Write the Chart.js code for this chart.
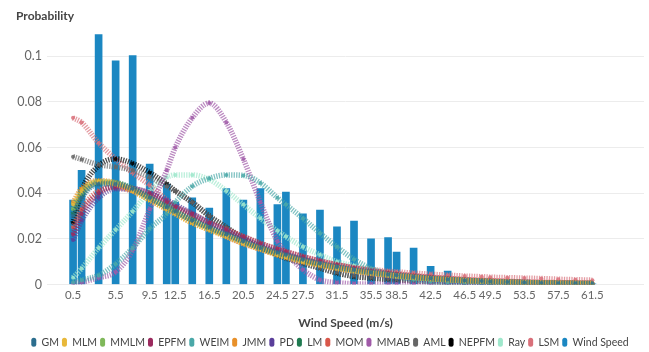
<!DOCTYPE html>
<html>
<head>
<meta charset="utf-8">
<script src="https://cdn.jsdelivr.net/npm/chart.js@4/dist/chart.umd.min.js"></script>
<style>
  html, body { margin: 0; padding: 0; background: #ffffff; }
  #wrap { width: 649px; height: 352px; position: relative; }
</style>
</head>
<body>
<div id="wrap"><canvas id="chart"></canvas></div>
<script>
// Wind speed bins (m/s)
const speeds = [0.5,1.5,3.5,5.5,7.5,9.5,11.5,12.5,14.5,16.5,18.5,20.5,22.5,24.5,25.5,27.5,29.5,31.5,33.5,35.5,37.5,38.5,40.5,42.5,44.5,46.5,48.5,49.5,51.5,53.5,55.5,57.5,59.5,61.5];

// Observed wind speed frequencies
const windSpeed = [0.037,0.050,0.1095,0.098,0.1003,0.0527,0.044,0.036,0.038,0.0335,0.042,0.037,0.042,0.035,0.0405,0.031,0.0326,0.0253,0.0278,0.020,0.0205,0.0142,0.016,0.008,0.0059,0.0025,0.0015,0.0012,0.001,0.0008,0.0006,0.0005,0.0004,0.0003];

// Fitted probability density curves
const gm    = [0.030,0.038,0.044,0.044,0.042,0.038,0.034,0.032,0.028,0.025,0.022,0.019,0.016,0.014,0.013,0.011,0.0092,0.0077,0.0064,0.0053,0.0044,0.004,0.0033,0.0027,0.0022,0.0018,0.0015,0.0013,0.0011,0.0009,0.0007,0.0006,0.0005,0.0004];
const mlm   = [0.035,0.041,0.045,0.044,0.041,0.037,0.033,0.031,0.027,0.024,0.021,0.018,0.0155,0.013,0.012,0.010,0.0085,0.0071,0.0059,0.0049,0.0041,0.0037,0.0031,0.0025,0.0021,0.0017,0.0014,0.0013,0.001,0.0008,0.0007,0.0006,0.0005,0.0004];
const mmlm  = [0.033,0.040,0.045,0.0445,0.042,0.038,0.034,0.032,0.028,0.0245,0.0215,0.0185,0.016,0.0135,0.0125,0.0105,0.0089,0.0075,0.0062,0.0052,0.0043,0.0039,0.0032,0.0026,0.0022,0.0018,0.0015,0.0013,0.0011,0.0009,0.0007,0.0006,0.0005,0.0004];
const epfm  = [0.022,0.031,0.040,0.043,0.042,0.040,0.036,0.034,0.031,0.027,0.024,0.021,0.018,0.0155,0.0145,0.0122,0.0103,0.0086,0.0072,0.006,0.005,0.0045,0.0037,0.003,0.0025,0.002,0.0016,0.0015,0.0012,0.001,0.0008,0.0007,0.0006,0.0005];
const weim  = [0.001,0.002,0.004,0.009,0.016,0.0245,0.031,0.036,0.043,0.0465,0.048,0.0478,0.0445,0.038,0.035,0.029,0.0225,0.0165,0.011,0.007,0.0045,0.0035,0.0022,0.0013,0.0008,0.0005,0.0003,0.0003,0.0002,0.0002,0.0001,0.0001,0.0001,0.0001];
const jmm   = [0.036,0.042,0.0455,0.0445,0.041,0.037,0.033,0.031,0.027,0.024,0.021,0.018,0.0155,0.013,0.012,0.0101,0.0085,0.0071,0.0059,0.0049,0.0041,0.0037,0.0031,0.0025,0.0021,0.0017,0.0014,0.0013,0.001,0.0008,0.0007,0.0006,0.0005,0.0004];
const pd    = [0.0195,0.028,0.038,0.042,0.042,0.040,0.037,0.035,0.031,0.027,0.0235,0.020,0.017,0.0145,0.0133,0.011,0.009,0.0073,0.0059,0.0047,0.0037,0.0033,0.0026,0.002,0.0016,0.0012,0.0009,0.0008,0.0006,0.0005,0.0004,0.0003,0.0002,0.0002];
const lm    = [0.031,0.039,0.0445,0.0445,0.042,0.038,0.034,0.032,0.0285,0.025,0.022,0.019,0.0163,0.014,0.0128,0.0108,0.0091,0.0076,0.0064,0.0053,0.0044,0.004,0.0033,0.0027,0.0022,0.0018,0.0015,0.0013,0.0011,0.0009,0.0007,0.0006,0.0005,0.0004];
const mom   = [0.025,0.033,0.041,0.0425,0.041,0.039,0.036,0.034,0.030,0.027,0.024,0.021,0.018,0.0155,0.0143,0.0122,0.0103,0.0087,0.0073,0.0061,0.0051,0.0047,0.0039,0.0032,0.0027,0.0022,0.0018,0.0017,0.0014,0.0011,0.0009,0.0008,0.0007,0.0006];
const mmab  = [0.0005,0.001,0.003,0.0055,0.015,0.033,0.050,0.060,0.073,0.0795,0.071,0.055,0.036,0.019,0.014,0.0065,0.002,0.0008,0.0003,0.0002,0.0001,0.0001,0.0001,0.0001,0.0001,0.0001,0.0001,0.0001,0.0001,0.0001,0.0001,0.0001,0.0001,0.0001];
const aml   = [0.056,0.0548,0.0525,0.0515,0.050,0.047,0.043,0.041,0.036,0.030,0.025,0.0205,0.0165,0.013,0.0116,0.0093,0.0072,0.0053,0.0038,0.003,0.0024,0.0021,0.0017,0.0013,0.001,0.0008,0.0006,0.0005,0.0004,0.0003,0.0003,0.0002,0.0002,0.0001];
const nepfm = [0.027,0.041,0.052,0.055,0.053,0.049,0.044,0.041,0.036,0.030,0.025,0.020,0.016,0.013,0.0116,0.0093,0.0072,0.005,0.0035,0.0028,0.0022,0.002,0.0016,0.0012,0.0009,0.0007,0.0005,0.0005,0.0004,0.0003,0.0002,0.0002,0.0001,0.0001];
const ray   = [0.003,0.007,0.016,0.024,0.032,0.041,0.047,0.048,0.048,0.046,0.041,0.035,0.029,0.0235,0.021,0.0165,0.013,0.010,0.0082,0.0065,0.005,0.0045,0.0035,0.0027,0.002,0.0015,0.0012,0.001,0.0008,0.0006,0.0005,0.0004,0.0003,0.0002];
const lsm   = [0.073,0.071,0.062,0.055,0.049,0.0435,0.037,0.034,0.029,0.025,0.021,0.018,0.0155,0.0135,0.0125,0.011,0.0095,0.0085,0.0075,0.0066,0.0058,0.0055,0.005,0.0045,0.0041,0.0037,0.0034,0.0032,0.003,0.0028,0.0026,0.0023,0.0021,0.0019];

const seriesNames  = ['GM','MLM','MMLM','EPFM','WEIM','JMM','PD','LM','MOM','MMAB','AML','NEPFM','Ray','LSM'];
const seriesValues = [gm, mlm, mmlm, epfm, weim, jmm, pd, lm, mom, mmab, aml, nepfm, ray, lsm];
const seriesColors = ['#2c6e8e','#e8b83a','#7fb85a','#9b2a5e','#4aa8a8','#e8902a','#5a3e9a','#1f7a50','#d9574a','#a05aa8','#666666','#000000','#9fe8cc','#d9707a'];
const barName  = 'Wind Speed';
const barColor = '#1b87c2';

// Axis ticks
const xTicks = [0.5,5.5,9.5,12.5,16.5,20.5,24.5,27.5,31.5,35.5,38.5,42.5,46.5,49.5,53.5,57.5,61.5];
const yTicks = [0,0.02,0.04,0.06,0.08,0.1];

function withAlpha(hex, a) {
  const n = parseInt(hex.slice(1), 16);
  return `rgba(${(n >> 16) & 255},${(n >> 8) & 255},${n & 255},${a})`;
}
const toPoints = vals => vals.map((v, i) => ({ x: speeds[i], y: v }));

const lineSets = seriesNames.map((name, i) => ({
  type: 'line',
  label: name,
  data: toPoints(seriesValues[i]),
  borderColor: withAlpha(seriesColors[i], 0.7),
  backgroundColor: withAlpha(seriesColors[i], 0.85),
  borderWidth: 5.5,
  borderDash: [1.3, 1.2],
  pointRadius: 2,
  pointBorderWidth: 0,
  pointBackgroundColor: withAlpha(seriesColors[i], 0.85),
  cubicInterpolationMode: 'monotone',
  fill: false,
  order: 0
}));

const barSet = {
  type: 'bar',
  label: barName,
  data: toPoints(windSpeed),
  backgroundColor: barColor,
  borderWidth: 0,
  barThickness: 7,
  order: 1
};

const legendColors = [...seriesColors, barColor];
const fontFamily = 'Lato, "Open Sans", sans-serif';

new Chart(document.getElementById('chart'), {
  data: { datasets: [...lineSets, barSet] },
  options: {
    responsive: true,
    maintainAspectRatio: false,
    animation: false,
    layout: { padding: { left: 16, right: 5, top: 0, bottom: 0 } },
    plugins: {
      title: {
        display: true,
        text: 'Probability',
        align: 'start',
        color: '#444444',
        font: { family: fontFamily, size: 12, weight: 'bold' },
        padding: { top: 9, bottom: 10 }
      },
      legend: {
        position: 'bottom',
        maxHeight: 18,
        labels: {
          color: '#444444',
          font: { family: fontFamily, size: 10.5 },
          boxWidth: 5,
          boxHeight: 9,
          padding: 3,
          useBorderRadius: true,
          borderRadius: 2.5,
          generateLabels(chart) {
            const base = Chart.defaults.plugins.legend.labels.generateLabels(chart);
            return base.map((item, i) => Object.assign(item, {
              fillStyle: legendColors[i],
              strokeStyle: legendColors[i],
              lineWidth: 0,
              lineDash: [],
              borderRadius: 2.5
            }));
          }
        }
      },
      tooltip: { enabled: false }
    },
    scales: {
      x: {
        type: 'linear',
        min: -0.5,
        max: 65.5,
        grid: { display: false, drawTicks: false },
        border: { display: false },
        afterBuildTicks(axis) { axis.ticks = xTicks.map(v => ({ value: v })); },
        afterFit(axis) { axis.height = 49.5; },
        ticks: {
          autoSkip: false,
          maxRotation: 0,
          padding: 4,
          color: '#666666',
          font: { family: fontFamily, size: 11.5 },
          callback: v => String(v)
        },
        title: {
          display: true,
          text: 'Wind Speed (m/s)',
          color: '#444444',
          font: { family: fontFamily, size: 12, weight: 'bold' },
          padding: { top: 4, bottom: 4 }
        }
      },
      y: {
        min: 0,
        max: 0.11,
        grid: { color: '#ececec', drawTicks: false },
        border: { display: false },
        afterBuildTicks(axis) { axis.ticks = yTicks.map(v => ({ value: v })); },
        afterFit(axis) { axis.width = 31; },
        ticks: {
          padding: 5,
          color: '#666666',
          font: { family: fontFamily, size: 12.5 },
          callback: v => String(v)
        }
      }
    }
  }
});
</script>
</body>
</html>
